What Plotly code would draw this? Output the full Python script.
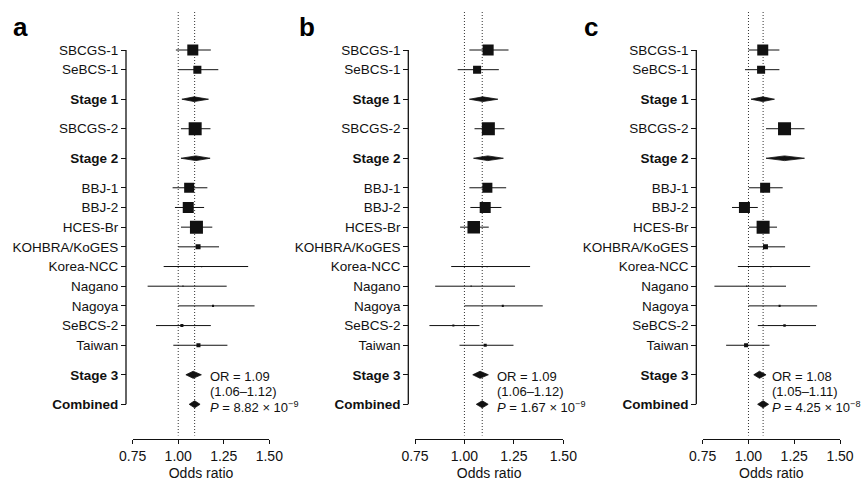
import plotly.graph_objects as go

# ---------------- data ----------------
labels = ["SBCGS-1", "SeBCS-1", "Stage 1", "SBCGS-2", "Stage 2", "BBJ-1", "BBJ-2",
          "HCES-Br", "KOHBRA/KoGES", "Korea-NCC", "Nagano", "Nagoya", "SeBCS-2",
          "Taiwan", "Stage 3", "Combined"]
summary = ["Stage 1", "Stage 2", "Stage 3", "Combined"]

# panel a
or_a = [1.080, 1.105, 1.087, 1.093, 1.097, 1.060, 1.055, 1.100, 1.109, 1.128, 1.026, 1.191, 1.020, 1.111, 1.082, 1.09]
lo_a = [0.987, 1.000, 1.020, 1.015, 1.015, 0.969, 0.982, 1.015, 1.000, 0.920, 0.832, 1.000, 0.878, 0.973, 1.042, 1.06]
hi_a = [1.179, 1.220, 1.166, 1.177, 1.175, 1.160, 1.142, 1.187, 1.224, 1.384, 1.266, 1.419, 1.179, 1.270, 1.127, 1.12]
wt_a = [11.8, 6.3, None, 16.5, None, 9.8, 11.8, 16.5, 2.4, 0.15, 0.15, 0.4, 0.9, 1.6, None, None]

# panel b
or_b = [1.120, 1.064, 1.093, 1.121, 1.118, 1.116, 1.105, 1.047, None, 1.115, 1.034, 1.194, 0.944, 1.105, 1.079, 1.09]
lo_b = [1.025, 0.966, 1.025, 1.051, 1.046, 1.025, 1.030, 0.978, None, 0.933, 0.852, 1.000, 0.823, 0.975, 1.042, 1.06]
hi_b = [1.223, 1.174, 1.169, 1.202, 1.197, 1.211, 1.187, 1.123, None, 1.332, 1.256, 1.396, 1.076, 1.248, 1.121, 1.12]
wt_b = [11.8, 6.3, None, 16.5, None, 9.8, 11.8, 15.3, None, 0.15, 0.15, 0.4, 0.4, 0.9, None, None]

# panel c
or_c = [1.078, 1.069, 1.078, 1.197, 1.197, 1.091, 0.978, 1.080, 1.093, 1.122, 0.990, 1.170, 1.197, 0.987, 1.060, 1.08]
lo_c = [1.000, 0.981, 1.014, 1.096, 1.096, 1.002, 0.910, 1.003, 1.003, 0.942, 0.814, 1.000, 1.051, 0.878, 1.029, 1.05]
hi_c = [1.169, 1.169, 1.142, 1.306, 1.306, 1.187, 1.051, 1.156, 1.200, 1.337, 1.205, 1.375, 1.369, 1.115, 1.096, 1.11]
wt_c = [11.8, 6.3, None, 16.5, None, 9.8, 11.8, 16.5, 2.4, 0.15, 0.15, 0.4, 0.6, 1.6, None, None]

panel_letters = ["a", "b", "c"]
or_text = ["OR = 1.09", "OR = 1.09", "OR = 1.08"]
ci_text = ["(1.06–1.12)", "(1.06–1.12)", "(1.05–1.11)"]
p_text = ["<i>P</i> = 8.82 × 10<sup>−9</sup>",
          "<i>P</i> = 1.67 × 10<sup>−9</sup>",
          "<i>P</i> = 4.25 × 10<sup>−8</sup>"]
combined_or = [1.09, 1.09, 1.08]
x_ticks = [0.75, 1.00, 1.25, 1.50]
x_ticktext = ["0.75", "1.00", "1.25", "1.50"]

panels = [(or_a, lo_a, hi_a, wt_a), (or_b, lo_b, hi_b, wt_b), (or_c, lo_c, hi_c, wt_c)]

# ---------------- layout helpers ----------------
W, H = 866, 481
FONT = "Liberation Sans, Arial, Helvetica, sans-serif"
INK = "#111111"

# row positions (extra gap around summary rows)
rows = []
pos = 0.0
for i, lab in enumerate(labels):
    if i > 0:
        pos += 1.5 if (lab in summary or labels[i - 1] in summary) else 1.0
    rows.append(pos)

px_per_row = (404.3 - 50.0) / 18.0
y_bottom_px, y_top_px = 439.3, 10.0
y_rng = [(y_bottom_px - 50.0) / px_per_row, (y_top_px - 50.0) / px_per_row]
y_dom = [(H - y_bottom_px) / H, (H - y_top_px) / H]

# pixel geometry of each panel: (x of 0.75, x of 1.50, y spine x, letter x, OR-text x px)
geo = [(132.7, 269.3, 126.0, 11.0, 208.3),
       (415.0, 563.3, 408.3, 297.0, 495.0),
       (702.7, 840.0, 696.3, 582.0, 770.0)]

fig = go.Figure()
layout = dict(width=W, height=H, margin=dict(l=0, r=0, t=0, b=0, autoexpand=False),
              paper_bgcolor="white", plot_bgcolor="white", showlegend=False,
              font=dict(family=FONT, color=INK))
shapes, annotations = [], []

def box_size(w):
    return 3.2 * (w ** 0.5)

for k, (orv, lo, hi, wt) in enumerate(panels):
    xa = "x" if k == 0 else f"x{k+1}"
    ya = "y" if k == 0 else f"y{k+1}"
    xkey = "xaxis" if k == 0 else f"xaxis{k+1}"
    ykey = "yaxis" if k == 0 else f"yaxis{k+1}"
    x0px, x1px, spx, letx, orx = geo[k]
    scale = (x1px - x0px) / 0.75

    # reference dotted lines
    for xv in [1.0, combined_or[k]]:
        shapes.append(dict(type="line", xref=xa, yref=ya, x0=xv, x1=xv,
                           y0=(12 - 50) / px_per_row, y1=(435.5 - 50) / px_per_row,
                           line=dict(color="#333", width=1, dash="1px,2px"), layer="below"))

    # CI lines for individual studies
    lx, ly = [], []
    sx, sy, ss = [], [], []
    for i, lab in enumerate(labels):
        if lab in summary or orv[i] is None:
            continue
        lx += [lo[i], hi[i], None]
        ly += [rows[i], rows[i], None]
        sx.append(orv[i]); sy.append(rows[i]); ss.append(box_size(wt[i]))
    fig.add_trace(go.Scatter(x=lx, y=ly, mode="lines", xaxis=xa, yaxis=ya,
                             line=dict(color=INK, width=1), hoverinfo="skip"))
    fig.add_trace(go.Scatter(x=sx, y=sy, mode="markers", xaxis=xa, yaxis=ya,
                             marker=dict(symbol="square", size=ss, color=INK, opacity=1,
                                         line=dict(width=0))))
    # summary diamonds
    for i, lab in enumerate(labels):
        if lab not in summary:
            continue
        h = 0.12 if lab in ("Stage 1", "Stage 2") else 0.18
        r = rows[i]
        fig.add_trace(go.Scatter(x=[lo[i], orv[i], hi[i], orv[i], lo[i]],
                                 y=[r, r - h, r, r + h, r], mode="lines",
                                 fill="toself", fillcolor=INK, xaxis=xa, yaxis=ya,
                                 line=dict(color=INK, width=0.8), hoverinfo="skip"))

    # y spine
    shapes.append(dict(type="line", xref="paper", yref=ya, x0=spx / W, x1=spx / W,
                       y0=rows[0], y1=rows[-1], line=dict(color=INK, width=1.3)))

    layout[xkey] = dict(domain=[x0px / W, x1px / W], range=[0.75, 1.5], anchor=ya,
                        automargin=False,
                        showgrid=False, zeroline=False, showline=True,
                        linecolor=INK, linewidth=1.3, ticks="outside", ticklen=4,
                        tickcolor=INK, tickwidth=1.3, tickvals=x_ticks,
                        ticktext=x_ticktext, tickfont=dict(size=14, color=INK),
                        title=dict(text="Odds ratio", font=dict(size=14, color=INK),
                                   standoff=5))
    ticktext = [f"<b>{l}</b>" if l in summary else l for l in labels]
    layout[ykey] = dict(domain=y_dom, range=y_rng, anchor="free", position=spx / W,
                        automargin=False,
                        showgrid=False, zeroline=False, showline=False,
                        ticks="outside", ticklen=5, tickcolor=INK, tickwidth=1.2,
                        tickvals=rows, ticktext=ticktext,
                        tickfont=dict(size=13.5, color=INK))

    # OR annotation
    ox = 1.0 + (orx - (x0px + 0.25 * scale)) / scale
    for txt, ypx in zip([or_text[k], ci_text[k], p_text[k]], [376.0, 391.5, 406.5]):
        annotations.append(dict(text=txt, xref=xa, yref=ya, x=ox,
                                y=(ypx - 50) / px_per_row, xanchor="left",
                                yanchor="middle", showarrow=False,
                                font=dict(size=13, color=INK, family=FONT)))
    # panel letter
    annotations.append(dict(text=f"<b>{panel_letters[k]}</b>", xref="paper", yref="paper",
                            x=letx / W, y=1 - 27 / H, xanchor="left", yanchor="middle",
                            showarrow=False, font=dict(size=26, color="#000", family=FONT)))

layout["shapes"] = shapes
layout["annotations"] = annotations
fig.update_layout(**layout)
fig.write_html("out.html", config={"displayModeBar": False},
               post_script="document.body.style.margin='0';document.body.style.padding='0';")
